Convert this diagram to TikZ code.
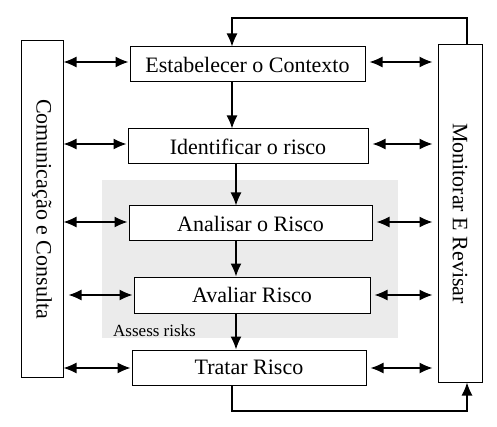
\documentclass[tikz,border=0pt]{standalone}
\usepackage{fontspec}
\usepackage{graphicx}
\setmainfont{Liberation Serif}
\usetikzlibrary{arrows.meta}
\begin{document}
\begin{tikzpicture}[x=1pt,y=-1pt,
  box/.style={draw=black, line width=1pt, fill=white, inner sep=0pt,
    font=\fontsize{22}{26}\selectfont},
  arr/.style={line width=1.3pt, -{Latex[length=13pt,width=11pt]}},
  dbl/.style={line width=1.3pt, {Latex[length=13pt,width=11pt]}-{Latex[length=13pt,width=11pt]}}]
\useasboundingbox (0,0) rectangle (497,427);
% grey "assess risks" area
\fill[black!8] (101.5,180) rectangle (397.5,338);
\node[anchor=base west, inner sep=0pt, font=\fontsize{17}{20}\selectfont] (lab) at (113,336) {Assess risks};
% boxes
\node[box, minimum width=235pt, minimum height=35pt] (est) at (247.5,64.5) {Estabelecer o Contexto};
\node[box, minimum width=240pt, minimum height=35pt] (ide) at (248,146.5) {Identificar o risco};
\node[box, minimum width=243pt, minimum height=35pt] (ana) at (250.5,223.5) {Analisar o Risco};
\node[box, minimum width=236pt, minimum height=36pt] (ava) at (252,295) {Avaliar Risco};
\node[box, minimum width=234pt, minimum height=35pt] (tra) at (249,367.5) {Tratar Risco};
\node[box, minimum width=42pt, minimum height=336pt] (com) at (42,209) {\rotatebox{-90}{Comunicação e Consulta}};
\node[box, minimum width=44pt, minimum height=337pt] (mon) at (460,213.5) {\rotatebox{-90}{Monitorar E Revisar}};
% helper coordinates
\coordinate (a1) at (232,0);
\coordinate (a2) at (236,0);
\coordinate (lt) at (467,18);
\coordinate (lb) at (467,411);
% flow arrows
\draw[arr] (est.south -| a1) -- (ide.north -| a1);
\draw[arr] (ide.south -| a2) -- (ana.north -| a2);
\draw[arr] (ana.south -| a2) -- (ava.north -| a2);
\draw[arr] (ava.south -| a2) -- (tra.north -| a2);
% feedback loops
\draw[arr] (mon.north -| lt) |- (a1 |- lt) -- (est.north -| a1);
\draw[arr] (tra.south -| a1) |- (lb) -- (mon.south -| lb);
% communication arrows
\foreach \b/\s/\d in {est/0pt/2.5pt, ide/0pt/2.5pt, ana/0pt/1.5pt, ava/5pt/0pt, tra/0pt/-0.5pt}{
  \coordinate (\b L) at ([yshift=\d]\b.west);
  \coordinate (\b R) at ([yshift=\d]\b.east);
  \draw[dbl, shorten <=\s, shorten >=1pt] (com.east |- \b L) -- (\b L);
  \draw[dbl, shorten <=4pt, shorten >=5pt] (\b R) -- (mon.west |- \b R);
}
\end{tikzpicture}
\end{document}
